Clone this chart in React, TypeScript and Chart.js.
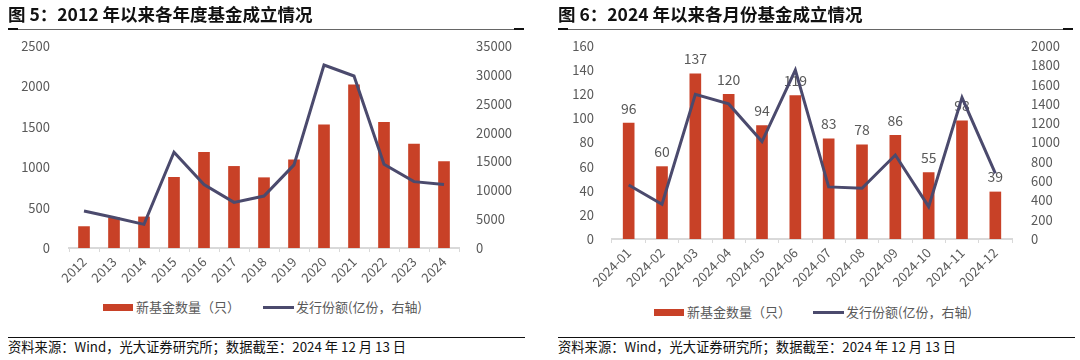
import React, { useEffect, useRef } from 'react';
import { Chart, registerables } from 'chart.js';

Chart.register(...registerables);

// ---------- DATA ----------
const yearCategories = ['2012', '2013', '2014', '2015', '2016', '2017', '2018', '2019', '2020', '2021', '2022', '2023', '2024'];
const yearFundCounts = [265, 375, 385, 875, 1185, 1010, 870, 1090, 1525, 2020, 1555, 1285, 1070];
const yearIssuance = [6400, 5300, 4100, 16600, 11000, 7900, 9000, 14400, 31700, 29800, 14500, 11500, 11000];

const monthCategories = ['2024-01', '2024-02', '2024-03', '2024-04', '2024-05', '2024-06', '2024-07', '2024-08', '2024-09', '2024-10', '2024-11', '2024-12'];
const monthFundCounts = [96, 60, 137, 120, 94, 119, 83, 78, 86, 55, 98, 39];
const monthIssuance = [560, 360, 1500, 1400, 1010, 1750, 540, 525, 870, 335, 1465, 680];

const leftTitle = '图 5：2012 年以来各年度基金成立情况';
const rightTitle = '图 6：2024 年以来各月份基金成立情况';
const barLegend = '新基金数量（只）';
const lineLegend = '发行份额(亿份，右轴)';
const sourceText = '资料来源：Wind，光大证券研究所；数据截至：2024 年 12 月 13 日';

const BAR_COLOR = '#C84127';
const LINE_COLOR = '#4B4A6D';
const TEXT_GRAY = '#595959';
const FONT = "'Noto Sans CJK SC', 'Noto Sans', sans-serif";

type Geo = {
  width: number;
  height: number;
  yWidth: number;
  yPad: number;
  y2Width: number;
  y2Pad: number;
  top: number;
  xHeight: number;
};

type Props = {
  categories: string[];
  counts: number[];
  issuance: number[];
  yMax: number;
  yStep: number;
  y2Max: number;
  y2Step: number;
  geo: Geo;
  showLabels: boolean;
};

const barLabelPlugin = {
  id: 'barLabels',
  afterDatasetDraw(chart: any, args: any, opts: any) {
    if (!opts || !opts.enabled) return;
    if (args.index !== 0) return;
    const meta = chart.getDatasetMeta(0);
    const ctx = chart.ctx;
    ctx.save();
    ctx.font = `14px ${FONT}`;
    ctx.fillStyle = TEXT_GRAY;
    ctx.textAlign = 'center';
    ctx.textBaseline = 'middle';
    meta.data.forEach((el: any, i: number) => {
      const v = chart.data.datasets[0].data[i];
      ctx.fillText(String(v), el.x, el.y - 15);
    });
    ctx.restore();
  },
};

const plain = (v: any) => String(v);

function ComboChart(p: Props) {
  const ref = useRef<HTMLCanvasElement>(null);
  useEffect(() => {
    if (!ref.current) return;
    const g = p.geo;
    const chart = new Chart(ref.current, {
      type: 'bar',
      data: {
        labels: p.categories,
        datasets: [
          {
            type: 'bar',
            label: barLegend,
            data: p.counts,
            backgroundColor: BAR_COLOR,
            barThickness: 11,
            yAxisID: 'y',
            order: 1,
          } as any,
          {
            type: 'line',
            label: lineLegend,
            data: p.issuance,
            borderColor: LINE_COLOR,
            backgroundColor: LINE_COLOR,
            borderWidth: 3,
            pointRadius: 0,
            tension: 0,
            yAxisID: 'y2',
            order: 0,
          } as any,
        ],
      },
      options: {
        animation: false,
        responsive: false,
        maintainAspectRatio: false,
        layout: { padding: { top: g.top, bottom: 0, left: 0, right: 0 } },
        plugins: {
          legend: { display: false },
          tooltip: { enabled: false },
          barLabels: { enabled: p.showLabels },
        } as any,
        scales: {
          x: {
            offset: true,
            grid: {
              display: true,
              drawOnChartArea: false,
              drawTicks: true,
              tickLength: 4,
              color: '#D9D9D9',
              lineWidth: 1,
              offset: true,
            },
            border: { display: true, color: '#D9D9D9', width: 2 },
            ticks: {
              color: TEXT_GRAY,
              font: { size: 13, family: FONT },
              minRotation: 45,
              maxRotation: 45,
              padding: 2,
              autoSkip: false,
            },
            afterFit(scale: any) {
              scale.height = g.xHeight;
            },
          },
          y: {
            position: 'left',
            min: 0,
            max: p.yMax,
            grid: { display: false },
            border: { display: false },
            ticks: {
              stepSize: p.yStep,
              color: TEXT_GRAY,
              font: { size: 13, family: FONT },
              padding: g.yPad,
              callback: plain,
            },
            afterFit(scale: any) {
              scale.width = g.yWidth;
            },
          },
          y2: {
            position: 'right',
            min: 0,
            max: p.y2Max,
            grid: { display: false },
            border: { display: false },
            ticks: {
              stepSize: p.y2Step,
              color: TEXT_GRAY,
              font: { size: 13, family: FONT },
              padding: g.y2Pad,
              callback: plain,
            },
            afterFit(scale: any) {
              scale.width = g.y2Width;
            },
          },
        },
      } as any,
      plugins: [barLabelPlugin],
    });
    return () => chart.destroy();
  }, []);
  return (
    <canvas
      ref={ref}
      width={p.geo.width}
      height={p.geo.height}
      style={{ display: 'block', width: p.geo.width, height: p.geo.height }}
    />
  );
}

function Rule({ left, width, top, thick }: { left: number; width: number; top: number; thick?: boolean }) {
  if (thick) {
    return <div style={{ position: 'absolute', left, top, width, height: 1.5, background: '#111' }} />;
  }
  return (
    <>
      <div style={{ position: 'absolute', left, top, width, height: 1, background: '#666' }} />
      <div style={{ position: 'absolute', left, top: top - 0.5, width: 10, height: 2, background: '#111' }} />
      <div style={{ position: 'absolute', left: left + width - 10, top: top - 0.5, width: 10, height: 2, background: '#111' }} />
    </>
  );
}

function Legend({ left, top, lineLeft }: { left: number; top: number; lineLeft: number }) {
  const txt: React.CSSProperties = {
    position: 'absolute',
    top: top - 10,
    fontSize: 13,
    lineHeight: '20px',
    color: TEXT_GRAY,
    fontFamily: FONT,
    whiteSpace: 'nowrap',
  };
  return (
    <>
      <div style={{ position: 'absolute', left, top: top - 3.5, width: 30, height: 7, background: BAR_COLOR }} />
      <div style={{ ...txt, left: left + 33 }}>{barLegend}</div>
      <div style={{ position: 'absolute', left: lineLeft, top: top - 1.5, width: 31, height: 3, background: LINE_COLOR }} />
      <div style={{ ...txt, left: lineLeft + 33 }}>{lineLegend}</div>
    </>
  );
}

export default function App() {
  const titleStyle: React.CSSProperties = {
    position: 'absolute',
    top: 3,
    fontSize: 17.5,
    fontWeight: 700,
    lineHeight: '22px',
    color: '#111',
    fontFamily: FONT,
    whiteSpace: 'nowrap',
  };
  const srcStyle: React.CSSProperties = {
    position: 'absolute',
    top: 338,
    fontSize: 13.3,
    lineHeight: '18px',
    color: '#111',
    fontFamily: FONT,
    whiteSpace: 'nowrap',
  };
  return (
    <div style={{ position: 'absolute', left: 0, top: 0, width: 1080, height: 360, background: '#fff', overflow: 'hidden' }}>
      <div style={{ position: 'absolute', left: 0, top: 0 }}>
        <ComboChart
          categories={yearCategories}
          counts={yearFundCounts}
          issuance={yearIssuance}
          yMax={2500}
          yStep={500}
          y2Max={35000}
          y2Step={5000}
          showLabels={false}
          geo={{ width: 540, height: 295, yWidth: 69, yPad: 11, y2Width: 81, y2Pad: 9, top: 46, xHeight: 47 }}
        />
      </div>
      <div style={{ position: 'absolute', left: 540, top: 0 }}>
        <ComboChart
          categories={monthCategories}
          counts={monthFundCounts}
          issuance={monthIssuance}
          yMax={160}
          yStep={20}
          y2Max={2000}
          y2Step={200}
          showLabels={true}
          geo={{ width: 540, height: 295, yWidth: 72, yPad: 10, y2Width: 68, y2Pad: 11, top: 46, xHeight: 56 }}
        />
      </div>

      <div style={{ ...titleStyle, left: 8 }}>{leftTitle}</div>
      <div style={{ ...titleStyle, left: 558 }}>{rightTitle}</div>
      <Rule left={8} width={516} top={28.5} />
      <Rule left={558} width={515} top={28.5} />

      <Legend left={103} top={307} lineLeft={263} />
      <Legend left={654} top={312} lineLeft={813} />

      <Rule left={8} width={517} top={336.5} thick />
      <Rule left={558} width={517} top={336.5} thick />
      <div style={{ ...srcStyle, left: 8 }}>{sourceText}</div>
      <div style={{ ...srcStyle, left: 558 }}>{sourceText}</div>
    </div>
  );
}
